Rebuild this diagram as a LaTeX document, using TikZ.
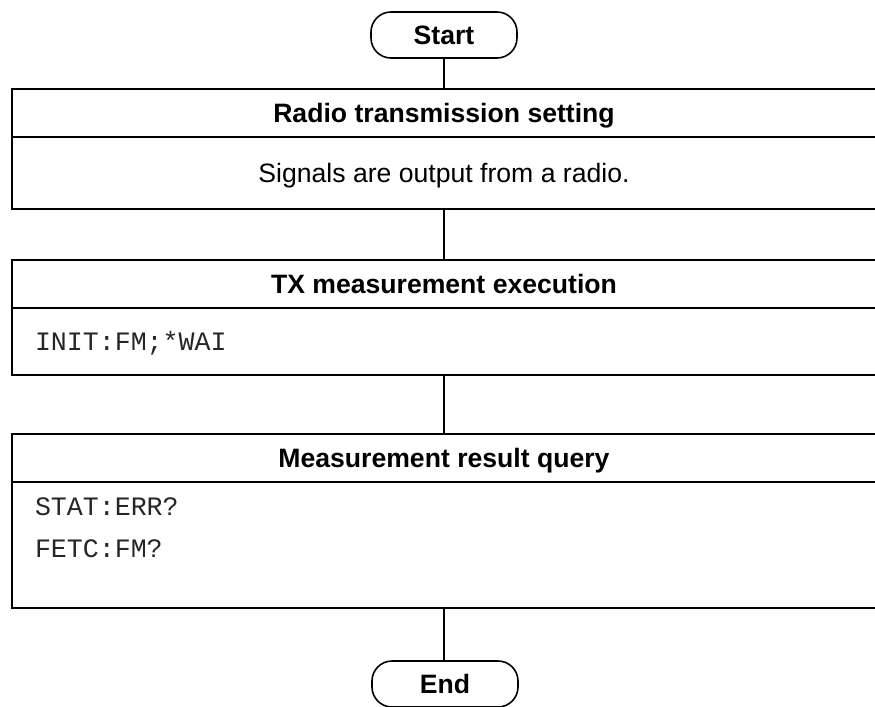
\documentclass[tikz,border=0pt]{standalone}
\usepackage{fontspec}
\setmainfont{Liberation Sans}
\setmonofont{Liberation Mono}
\begin{document}
\begin{tikzpicture}[x=0.5pt,y=-0.5pt,
  every node/.style={inner sep=0pt, outer sep=0pt},
  txt/.style={font=\fontsize{13.3}{16}\selectfont},
  cmd/.style={font=\fontsize{13.3}{16}\selectfont\ttfamily, anchor=base west, text=black!85},
  terminal/.style={draw, line width=0.8pt, rounded corners=10pt,
    minimum width=73pt, minimum height=23pt,
    font=\fontsize{13.3}{16}\selectfont\bfseries, text height=9.5pt, text depth=0pt},
  titlebox/.style={draw, line width=1pt, minimum width=432pt, minimum height=24pt,
    font=\fontsize{13.3}{16}\selectfont\bfseries, text height=9.5pt, text depth=0pt},
  bodybox/.style={draw, line width=1pt, minimum width=432pt},
  link/.style={line width=0.9pt}]
\useasboundingbox (0,0) rectangle (875,707);

% start terminal
\node[terminal] (start) at (444,35) {Start};

% step 1
\node[titlebox] (t1) at (444,113) {Radio transmission setting};
\node[bodybox, minimum height=36pt, txt, text height=9.5pt, text depth=0pt] (b1) at (444,173) {Signals are output from a radio.};

% step 2
\node[titlebox] (t2) at (444,284) {TX measurement execution};
\node[bodybox, minimum height=33.5pt] (b2) at (444,341.5) {};
\node[cmd] (c21) at (35,350) {INIT:FM;*WAI};

% step 3
\node[titlebox] (t3) at (444,458) {Measurement result query};
\node[bodybox, minimum height=63pt] (b3) at (444,545) {};
\node[cmd] (c31) at (35,515) {STAT:ERR?};
\node[cmd] (c32) at (35,557) {FETC:FM?};

% end terminal
\node[terminal] (end) at (445,684) {End};

% connectors
\draw[link] (start.south) -- (t1.north);
\draw[link] (b1.south) -- (t2.north);
\draw[link] (b2.south) -- (t3.north);
\draw[link] (b3.south) -- (b3.south |- end.north);
\end{tikzpicture}
\end{document}
